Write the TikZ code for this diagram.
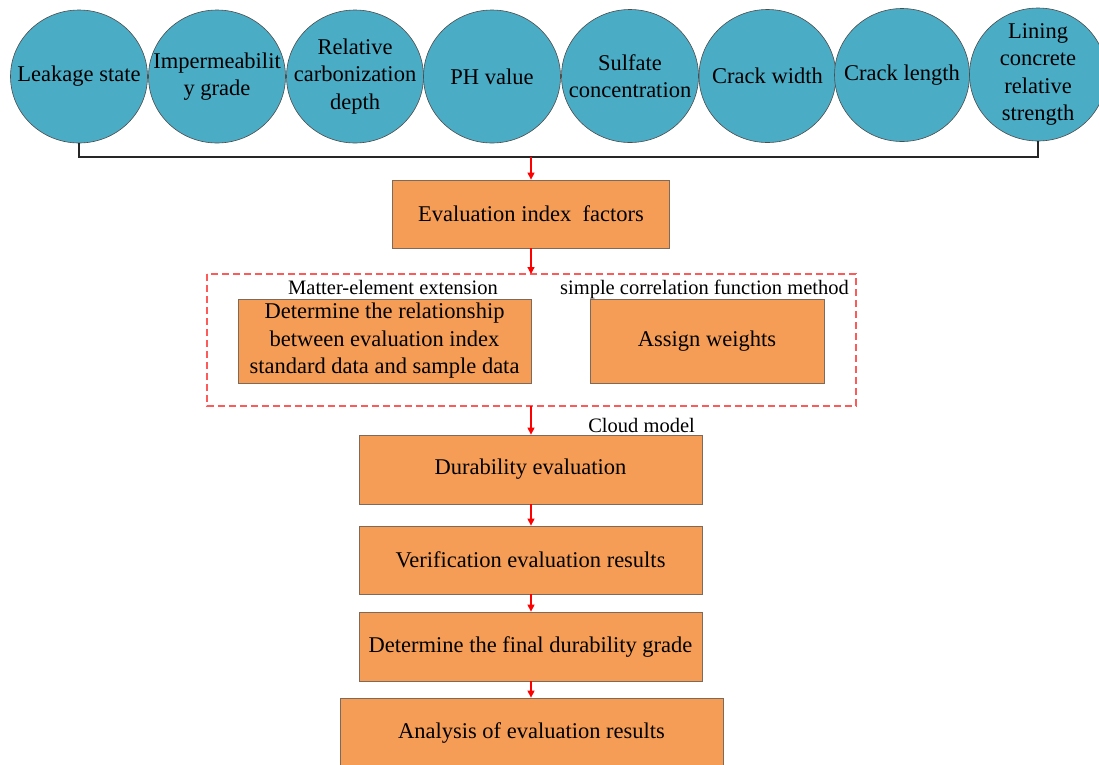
\documentclass[tikz,border=0pt]{standalone}
\usepackage{fontspec}
\setmainfont{Liberation Serif}
\usetikzlibrary{shapes.geometric,arrows.meta}
\definecolor{teal1}{HTML}{4BACC6}
\definecolor{orng}{HTML}{F59D56}
\definecolor{boxline}{HTML}{7F6A5A}
\definecolor{dashred}{HTML}{FF5A5A}
\tikzset{
  bub/.style={ellipse, draw=black!70, line width=0.6pt, fill=teal1, minimum width=137pt, minimum height=133pt, inner sep=0pt},
  btxt/.style={align=center, font=\fontsize{22.5}{27.5}\selectfont, inner sep=0pt},
  obox/.style={draw=boxline, line width=0.8pt, fill=orng, align=center, font=\fontsize{22.5}{27.5}\selectfont, inner sep=0pt},
  lbl/.style={font=\fontsize{20.5}{24}\selectfont, inner sep=0pt},
  redarr/.style={red, line width=1.2pt, -{Triangle[length=7pt,width=7pt]}},
  bus/.style={black!85, line width=1.3pt},
}
\begin{document}
\begin{tikzpicture}[x=1pt,y=-1pt]
\useasboundingbox (0,0) rectangle (1099,764);
% circles
\node[bub] (c1) at (79,76.5) {};
\node[bub] (c2) at (217,76.5) {};
\node[bub] (c3) at (355,76.5) {};
\node[bub] (c4) at (492,76.5) {};
\node[bub] (c5) at (630,76) {};
\node[bub] (c6) at (767.5,76) {};
\node[bub, minimum width=135pt] (c7) at (902,75) {};
\node[bub] (c8) at (1038,74.5) {};
\node[btxt] (t1) at (c1) {Leakage state};
\node[btxt] (t2) at (c2) {Impermeabilit\\y grade};
\node[btxt] (t3) at (c3) {Relative\\carbonization\\depth};
\node[btxt] (t4) at (c4) {PH value};
\node[btxt] (t5) at (c5) {Sulfate\\concentration};
\node[btxt] (t6) at (c6) {Crack width};
\node[btxt] (t7) at (c7) {Crack length};
\node[btxt] (t8) at (c8) {Lining\\concrete\\relative\\strength};
% bus
\coordinate (bl) at (79,157);
\coordinate (br) at (1038,157);
\coordinate (bm) at (531,157);
\draw[bus] (c1.south) -- (bl) -- (br) -- (c8.south);
% boxes
\node[obox, minimum width=277pt, minimum height=68pt] (eval) at (531,214) {Evaluation index\ \ factors};
\draw[dashred, dashed, dash pattern=on 7pt off 4pt, line width=1.1pt] (207,274) rectangle (856,406);
\coordinate (dtop) at (531,274);
\coordinate (dbot) at (531,406);
\node[obox, minimum width=293pt, minimum height=84pt] (rel) at (384.5,341) {Determine the relationship\\between evaluation index\\standard data and sample data};
\node[obox, minimum width=234pt, minimum height=84pt] (wt) at (707,341) {Assign weights};
\node[lbl, anchor=base] (l1) at (393,294) {Matter-element extension};
\node[lbl, anchor=base east] (l2) at (849,294) {simple correlation function method};
\node[obox, minimum width=343pt, minimum height=69pt] (dur) at (530.5,469.5) {Durability evaluation};
\node[lbl, anchor=base east] (l3) at (695,432) {Cloud model};
\node[obox, minimum width=343pt, minimum height=68pt] (ver) at (530.5,560) {Verification evaluation results};
\node[obox, minimum width=343pt, minimum height=69pt] (fin) at (530.5,646.5) {Determine the final durability grade};
\node[obox, minimum width=383pt, minimum height=70pt] (ana) at (531.5,733) {Analysis of evaluation results};
% arrows
\draw[redarr] (bm) -- (eval.north);
\draw[redarr] (eval.south) -- (dtop);
\draw[redarr] (dbot) -- (dur.north -| dbot);
\draw[redarr] (dur.south -| dbot) -- (ver.north -| dbot);
\draw[redarr] (ver.south -| dbot) -- (fin.north -| dbot);
\draw[redarr] (fin.south -| dbot) -- (ana.north -| dbot);
\end{tikzpicture}
\end{document}
